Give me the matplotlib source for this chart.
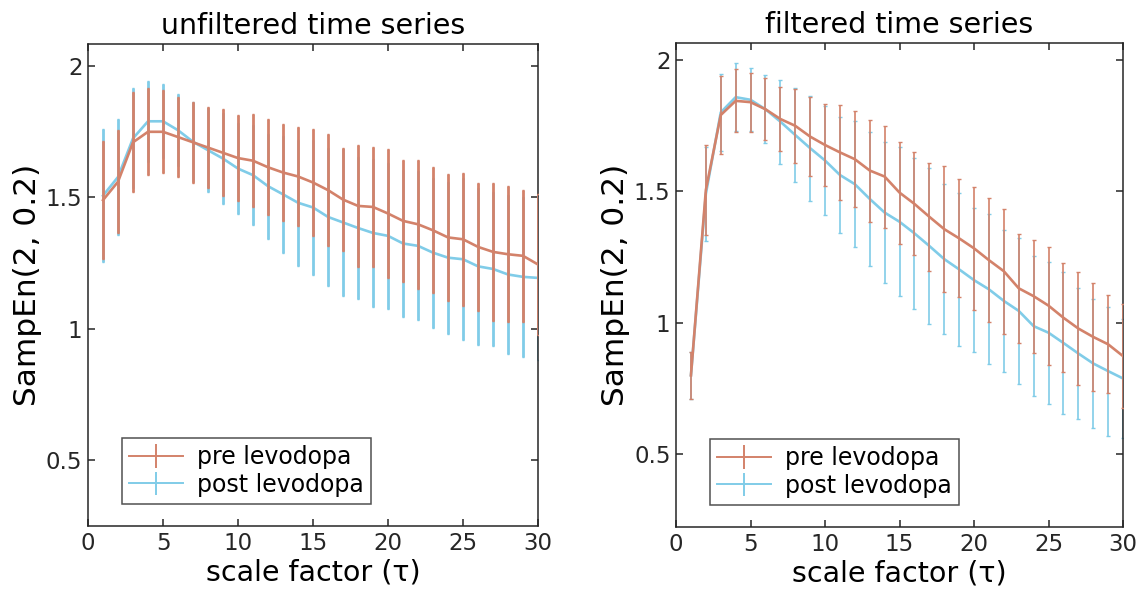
import numpy as np
import matplotlib
matplotlib.use("Agg")
import matplotlib.pyplot as plt
from matplotlib.ticker import FormatStrFormatter

# scale factors
tau = np.arange(1, 31)

# unfiltered time series
unf_pre = [1.49, 1.56, 1.71, 1.75, 1.75, 1.73, 1.71, 1.69, 1.67, 1.65,
           1.64, 1.615, 1.595, 1.58, 1.557, 1.528, 1.492, 1.468, 1.464, 1.439,
           1.411, 1.398, 1.375, 1.348, 1.341, 1.312, 1.293, 1.284, 1.278, 1.245]
unf_pre_err = [0.225, 0.197, 0.19, 0.165, 0.158, 0.153, 0.155, 0.153, 0.165, 0.164,
               0.176, 0.182, 0.186, 0.19, 0.203, 0.213, 0.197, 0.232, 0.227, 0.246,
               0.232, 0.245, 0.24, 0.242, 0.254, 0.245, 0.263, 0.258, 0.252, 0.269]
unf_post = [1.507, 1.578, 1.725, 1.79, 1.79, 1.756, 1.712, 1.68, 1.648, 1.61,
            1.585, 1.543, 1.512, 1.48, 1.462, 1.426, 1.405, 1.384, 1.365, 1.354,
            1.325, 1.316, 1.29, 1.271, 1.265, 1.238, 1.228, 1.207, 1.198, 1.194]
unf_post_err = [0.252, 0.22, 0.19, 0.154, 0.141, 0.136, 0.15, 0.16, 0.174, 0.174,
                0.19, 0.2, 0.222, 0.24, 0.256, 0.264, 0.28, 0.27, 0.28, 0.277,
                0.28, 0.283, 0.285, 0.289, 0.308, 0.30, 0.294, 0.304, 0.305, 0.311]

# filtered time series
fil_pre = [0.80, 1.505, 1.79, 1.844, 1.839, 1.812, 1.775, 1.749, 1.708, 1.676,
           1.648, 1.622, 1.579, 1.556, 1.495, 1.452, 1.403, 1.356, 1.321, 1.283,
           1.238, 1.196, 1.131, 1.101, 1.065, 1.019, 0.978, 0.946, 0.918, 0.873]
fil_pre_err = [0.09, 0.17, 0.15, 0.12, 0.112, 0.118, 0.122, 0.14, 0.151, 0.157,
               0.18, 0.183, 0.194, 0.194, 0.194, 0.196, 0.205, 0.24, 0.224, 0.233,
               0.235, 0.237, 0.207, 0.215, 0.224, 0.208, 0.216, 0.204, 0.187, 0.198]
fil_post = [0.80, 1.49, 1.80, 1.858, 1.848, 1.812, 1.765, 1.714, 1.664, 1.617,
            1.562, 1.527, 1.471, 1.419, 1.384, 1.34, 1.292, 1.242, 1.203, 1.162,
            1.127, 1.083, 1.045, 0.987, 0.962, 0.923, 0.883, 0.845, 0.816, 0.788]
fil_post_err = [0.09, 0.18, 0.147, 0.13, 0.12, 0.13, 0.16, 0.178, 0.2, 0.208,
                0.22, 0.24, 0.254, 0.267, 0.283, 0.287, 0.295, 0.284, 0.29, 0.274,
                0.285, 0.27, 0.278, 0.265, 0.27, 0.27, 0.25, 0.245, 0.245, 0.225]

pre_color = '#D3826A'
post_color = '#80CCE8'
dark = '#262626'

fig = plt.figure(figsize=(11.37, 5.95), dpi=100)
ax1 = fig.add_axes([0.0774, 0.1160, 0.3958, 0.810])
ax2 = fig.add_axes([0.5946, 0.1143, 0.3931, 0.8134])


def draw_panel(ax, pre, pre_err, post, post_err, title, ylim, bar_lw, cap):
    ax.errorbar(tau, post, yerr=post_err, color=post_color, lw=1.9,
                elinewidth=bar_lw, capsize=cap, capthick=1, zorder=2)
    ax.errorbar(tau, pre, yerr=pre_err, color=pre_color, lw=1.9,
                elinewidth=bar_lw, capsize=cap, capthick=1, zorder=3)
    # proxies so the legend shows caps
    h1 = ax.errorbar([], [], yerr=[], color=pre_color, lw=1.4,
                     elinewidth=1.4, capsize=4, capthick=1.4)
    h2 = ax.errorbar([], [], yerr=[], color=post_color, lw=1.4,
                     elinewidth=1.4, capsize=4, capthick=1.4)
    leg = ax.legend([h1, h2], ['pre levodopa', 'post levodopa'],
                    loc='lower left', bbox_to_anchor=(0.075, 0.046),
                    fontsize=17, frameon=True, fancybox=False,
                    handlelength=2.3, borderpad=0.3, labelspacing=0.15,
                    handletextpad=0.6, borderaxespad=0)
    leg.get_frame().set_edgecolor(dark)
    leg.get_frame().set_linewidth(1.1)
    ax.set_xlim(0, 30)
    ax.set_ylim(*ylim)
    ax.set_xticks([0, 5, 10, 15, 20, 25, 30])
    ax.set_yticks([0.5, 1, 1.5, 2])
    ax.yaxis.set_major_formatter(FormatStrFormatter('%g'))
    ax.tick_params(direction='in', top=True, right=True, length=5,
                   width=1.1, color=dark, labelcolor=dark, labelsize=16.5, pad=4)
    for s in ax.spines.values():
        s.set_color(dark)
        s.set_linewidth(1.1)
    ax.set_title(title, fontsize=20.5, pad=7)
    ax.set_xlabel('scale factor (τ)', fontsize=20.5, labelpad=3)
    ax.set_ylabel('SampEn(2, 0.2)', fontsize=22.5, labelpad=3)


draw_panel(ax1, unf_pre, unf_pre_err, unf_post, unf_post_err,
           'unfiltered time series', (0.25, 2.084), 2.0, 0.8)
draw_panel(ax2, fil_pre, fil_pre_err, fil_post, fil_post_err,
           'filtered time series', (0.223, 2.064), 1.2, 1.5)

fig.savefig('out.png', dpi=100)
